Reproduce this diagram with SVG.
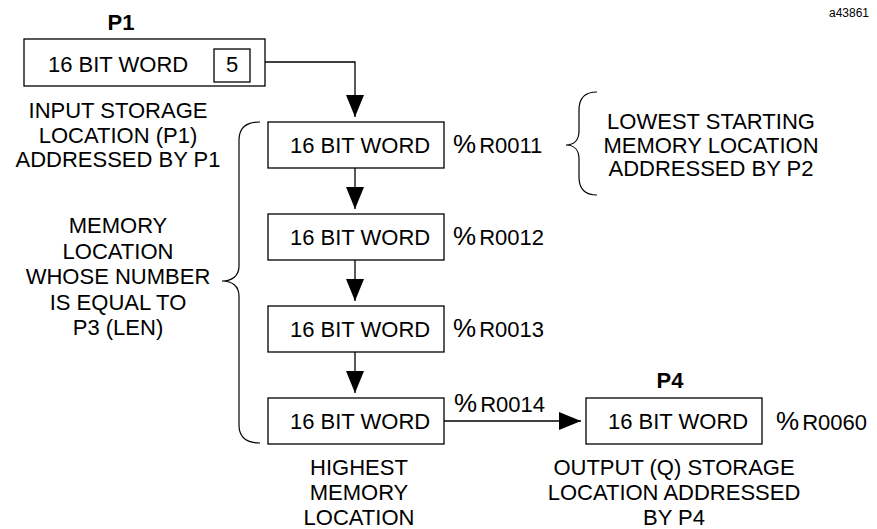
<svg xmlns="http://www.w3.org/2000/svg" width="877" height="529" viewBox="0 0 877 529">
<style>
text{font-family:"Liberation Sans",Arial,Helvetica,sans-serif;font-size:22px;fill:#000}
.c{text-anchor:middle}
.b{font-weight:bold}
.pct{font-size:26px}
.box{fill:#fff;stroke:#000;stroke-width:1.3}
.ln{fill:none;stroke:#000;stroke-width:1.3}
.br{fill:none;stroke:#000;stroke-width:1.2}
</style>
<defs>
<marker id="ah" viewBox="0 0 22 18" refX="22" refY="9" markerWidth="22" markerHeight="18" markerUnits="userSpaceOnUse" orient="auto">
<path d="M0,0 L22,9 L0,18 z" fill="#000"/>
</marker>
</defs>
<rect width="877" height="529" fill="#fff"/>
<text x="869" y="17" style="font-size:12px;text-anchor:end">a43861</text>

<g id="connectors">
<path class="ln" d="M265,62 H355 V117" marker-end="url(#ah)"/>
<path class="ln" d="M355,168 V209" marker-end="url(#ah)"/>
<path class="ln" d="M355,260 V301" marker-end="url(#ah)"/>
<path class="ln" d="M355,352 V393" marker-end="url(#ah)"/>
<path class="ln" d="M444,421 H581" marker-end="url(#ah)"/>
</g>

<g id="p1">
<text class="c b" x="121" y="30">P1</text>
<rect class="box" x="24" y="39" width="241" height="47"/>
<text x="48" y="72">16 BIT WORD</text>
<rect class="box" x="214" y="49" width="36" height="33"/>
<text class="c" x="232" y="72">5</text>
</g>
<g id="p1-note">
<text class="c" x="118" y="118">INPUT STORAGE</text>
<text class="c" x="118" y="143">LOCATION (P1)</text>
<text class="c" x="118" y="167">ADDRESSED BY P1</text>
</g>

<g id="r0011">
<rect class="box" x="268" y="122" width="176" height="46"/>
<text x="290" y="153">16 BIT WORD</text>
<text x="453" y="153"><tspan class="pct">%</tspan><tspan dx="3">R0011</tspan></text>
</g>
<g id="r0012">
<rect class="box" x="268" y="214" width="176" height="46"/>
<text x="290" y="245">16 BIT WORD</text>
<text x="453" y="245"><tspan class="pct">%</tspan><tspan dx="3">R0012</tspan></text>
</g>
<g id="r0013">
<rect class="box" x="268" y="306" width="176" height="46"/>
<text x="290" y="337">16 BIT WORD</text>
<text x="453" y="337"><tspan class="pct">%</tspan><tspan dx="3">R0013</tspan></text>
</g>
<g id="r0014">
<rect class="box" x="268" y="398" width="176" height="46"/>
<text x="290" y="429">16 BIT WORD</text>
<text x="454" y="412"><tspan class="pct">%</tspan><tspan dx="3">R0014</tspan></text>
</g>
<g id="p4">
<text class="c b" x="670" y="388">P4</text>
<rect class="box" x="586" y="398" width="176" height="46"/>
<text x="608" y="429">16 BIT WORD</text>
<text x="776" y="430"><tspan class="pct">%</tspan><tspan dx="3">R0060</tspan></text>
</g>

<g id="len-brace">
<path class="br" d="M260,122 C246,122 239,128 239,140 L239,266 C239,276 232,281 222,281 C232,281 239,286 239,296 L239,425 C239,437 246,443 260,443"/>
<text class="c" x="118" y="233">MEMORY</text>
<text class="c" x="118" y="259">LOCATION</text>
<text class="c" x="118" y="284">WHOSE NUMBER</text>
<text class="c" x="118" y="310">IS EQUAL TO</text>
<text class="c" x="118" y="335">P3 (LEN)</text>
</g>
<g id="p2-brace">
<path class="br" d="M597,92 C585,92 579,98 579,110 L579,131 C579,140 574,145 566,145 C574,145 579,150 579,159 L579,177 C579,189 585,195 597,195"/>
<text class="c" x="711" y="129">LOWEST STARTING</text>
<text class="c" x="711" y="153">MEMORY LOCATION</text>
<text class="c" x="711" y="176">ADDRESSED BY P2</text>
</g>
<g id="highest-note">
<text class="c" x="359" y="475">HIGHEST</text>
<text class="c" x="359" y="500">MEMORY</text>
<text class="c" x="359" y="525">LOCATION</text>
</g>
<g id="p4-note">
<text class="c" x="674" y="475">OUTPUT (Q) STORAGE</text>
<text class="c" x="674" y="500">LOCATION ADDRESSED</text>
<text class="c" x="674" y="525">BY P4</text>
</g>
</svg>
